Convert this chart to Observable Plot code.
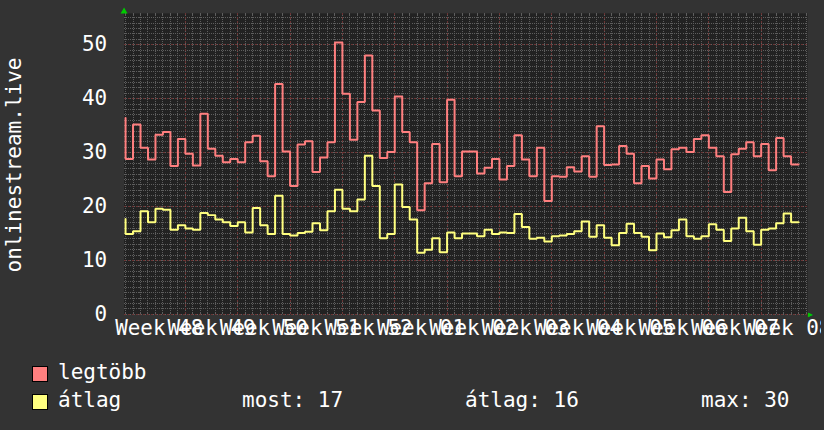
<!DOCTYPE html>
<html>
<head>
<meta charset="utf-8">
<script src="https://cdn.jsdelivr.net/npm/d3@7"></script>
<script src="https://cdn.jsdelivr.net/npm/@observablehq/plot@0.6"></script>
<style>
html, body { margin: 0; padding: 0; background: #333333; overflow: hidden; width: 824px; height: 430px; }
#wrap { position: relative; width: 824px; height: 430px; font-family: "DejaVu Sans Mono", monospace; color: #ffffff; }
#chart { position: absolute; left: 0; top: 0; width: 821px; height: 345px; overflow: hidden; }
#ytitle { position: absolute; left: 14px; top: 165px; transform: translate(-50%, -50%) rotate(-90deg); font-size: 21px; white-space: nowrap; line-height: 1; }
.leg { position: absolute; font-size: 21px; white-space: nowrap; line-height: 1; }
.sw { position: absolute; width: 14px; height: 14px; border: 1px solid #000; }
</style>
</head>
<body>
<div id="wrap">
  <div id="chart"></div>
  <div id="ytitle"></div>
  <div id="legend"></div>
</div>
<script>
// ---- data ----
const seriesNames = ["legtöbb", "átlag"];
const seriesColors = ["#ff7f7f", "#ffff7f"];
const yTitle = "onlinestream.live";

// daily values (step series), index 0..90
const maxValues = [36.4, 28.8, 35.2, 30.9, 28.7, 33.3, 33.8, 27.5, 32.5, 29.8,
  27.6, 37.2, 30.7, 29.4, 28.2, 28.8, 28.2, 31.9, 33.1, 28.4,
  25.6, 42.7, 30.2, 23.8, 31.5, 32.1, 26.4, 29.1, 31.9, 50.4,
  40.9, 32.4, 39.4, 48.0, 37.8, 29.0, 30.1, 40.4, 33.8, 31.9,
  19.3, 24.3, 31.6, 24.5, 39.8, 25.6, 30.2, 30.2, 26.1, 27.2,
  28.8, 25.0, 27.5, 33.2, 28.7, 25.6, 30.9, 21.0, 25.6, 25.5,
  27.3, 26.5, 29.3, 25.5, 34.9, 27.7, 27.8, 31.2, 29.8, 24.3,
  27.5, 25.2, 28.7, 26.9, 30.6, 30.9, 30.1, 32.5, 33.2, 30.9,
  29.3, 22.7, 29.7, 30.7, 31.9, 29.3, 31.6, 26.7, 32.7, 29.3, 27.8];
const avgValues = [17.7, 14.9, 15.4, 19.1, 17.1, 19.6, 19.4, 15.7, 16.5, 15.9,
  15.7, 18.8, 18.4, 17.6, 17.1, 16.4, 17.1, 15.2, 19.7, 16.5,
  14.9, 22.0, 14.9, 14.6, 15.1, 15.3, 16.9, 15.6, 19.1, 23.1,
  19.6, 19.1, 21.3, 29.4, 23.8, 14.1, 14.9, 24.1, 19.9, 17.6,
  11.4, 12.0, 14.1, 11.5, 15.2, 14.1, 15.0, 15.0, 14.5, 15.7,
  14.9, 15.2, 15.1, 18.6, 16.2, 14.0, 14.2, 13.5, 14.5, 14.6,
  14.9, 15.4, 17.2, 14.4, 16.5, 14.2, 12.8, 15.1, 16.8, 15.1,
  14.4, 11.9, 15.0, 14.3, 15.6, 17.6, 14.5, 14.0, 14.5, 16.7,
  15.7, 13.6, 15.9, 17.9, 15.4, 12.9, 15.7, 15.9, 16.9, 18.7, 17.1];

const weekLabels = ["Week 48", "Week 49", "Week 50", "Week 51", "Week 52", "Week 01",
  "Week 02", "Week 03", "Week 04", "Week 05", "Week 06", "Week 07", "Week 08"];
const weekLabelDays = [4.5, 11.5, 18.5, 25.5, 32.5, 39.5, 46.5, 53.5, 60.5, 67.5, 74.5, 81.5, 88.5];
const weekGridDays = [8, 15, 22, 29, 36, 43, 50, 57, 64, 71, 78, 85];
const yTicks = [0, 10, 20, 30, 40, 50];
const xDomain = [-0.2, 91.2];
const yDomain = [0, 55.8];

const statLabels = ["most:", "átlag:", "max:"];
const statValues = ["17", "16", "30"];

// ---- build ----
const rows = [];
maxValues.forEach((v, i) => rows.push({day: i, value: v, series: seriesNames[0]}));
avgValues.forEach((v, i) => rows.push({day: i, value: v, series: seriesNames[1]}));

const minorY = d3.range(0, Math.floor(yDomain[1]) + 1);
const minorX = d3.range(0, Math.floor(xDomain[1]) + 1);

const chart = Plot.plot({
  width: 824,
  height: 345,
  marginLeft: 124,
  marginRight: 14,
  marginTop: 13,
  marginBottom: 30,
  style: {background: "transparent", fontFamily: "DejaVu Sans Mono", fontSize: "21px", color: "#ffffff", overflow: "visible"},
  x: {domain: xDomain, axis: null},
  y: {domain: yDomain, axis: null},
  color: {domain: seriesNames, range: seriesColors},
  marks: [
    Plot.frame({fill: "#222222", stroke: null}),
    Plot.ruleY(minorY, {stroke: "#5e5e5e", strokeDasharray: "1,1", shapeRendering: "crispEdges"}),
    Plot.ruleX(minorX, {stroke: "#5e5e5e", strokeDasharray: "1,1", shapeRendering: "crispEdges"}),
    Plot.ruleX(minorX, {y1: yDomain[1], y2: yDomain[1] - 0.4, stroke: "#5e5e5e", shapeRendering: "crispEdges"}),
    Plot.ruleX(minorX, {y1: 0, y2: 0.4, stroke: "#5e5e5e", shapeRendering: "crispEdges"}),
    Plot.ruleY(yTicks, {stroke: "#6c3434", strokeDasharray: "2,2", shapeRendering: "crispEdges"}),
    Plot.ruleX(weekGridDays, {stroke: "#6c3434", strokeDasharray: "2,2", shapeRendering: "crispEdges"}),
    Plot.axisY(yTicks, {tickSize: 0, tickPadding: 17, fontSize: 21, fill: "#ffffff"}),
    Plot.axisX(weekLabelDays, {tickSize: 0, tickPadding: 6, fontSize: 21, fill: "#ffffff",
      tickFormat: (d) => weekLabels[weekLabelDays.indexOf(d)]}),
    Plot.line(rows, {x: "day", y: "value", z: "series", stroke: "series", strokeWidth: 2, curve: "step-before", strokeLinejoin: "miter"}),
    Plot.dot([{x: xDomain[0], y: yDomain[1]}], {x: "x", y: "y", symbol: "triangle", r: 2.6, fill: "#00cc00", stroke: null, dy: -2}),
    Plot.text([{x: xDomain[1], y: 0}], {x: "x", y: "y", text: () => "▶", fill: "#00cc00", fontSize: 8, dx: 3})
  ]
});
document.getElementById("chart").appendChild(chart);
document.getElementById("ytitle").textContent = yTitle;

// legend
const legend = document.getElementById("legend");
function addSwatch(color, top) {
  const s = document.createElement("div");
  s.className = "sw";
  s.style.left = "32px"; s.style.top = top + "px"; s.style.background = color;
  legend.appendChild(s);
}
function addText(txt, left, top) {
  const t = document.createElement("div");
  t.className = "leg";
  t.style.left = left + "px"; t.style.top = top + "px";
  t.textContent = txt;
  legend.appendChild(t);
}
addSwatch(seriesColors[0], 366);
addText(seriesNames[0], 58, 362);
addSwatch(seriesColors[1], 394);
addText(seriesNames[1], 58, 390);
const statLeft = [242, 465, 701];
statLabels.forEach((l, i) => addText(l + " " + statValues[i], statLeft[i], 390));
</script>
</body>
</html>
